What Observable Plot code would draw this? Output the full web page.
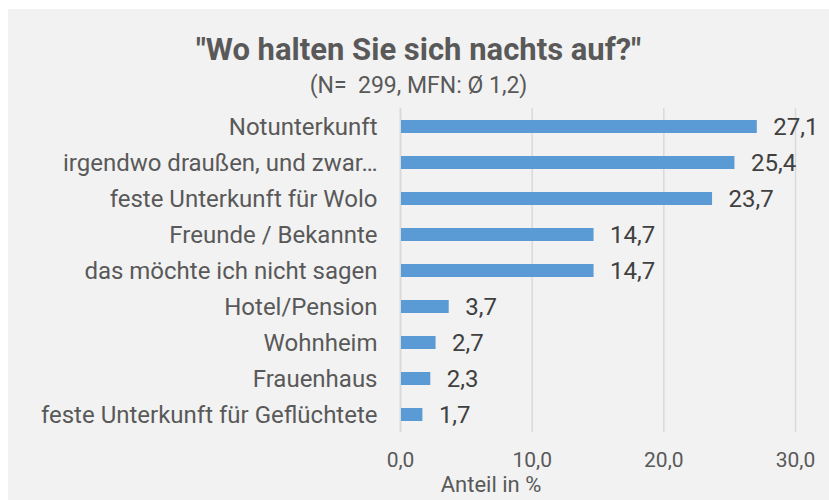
<!DOCTYPE html>
<html>
<head>
<meta charset="utf-8">
<script src="https://cdn.jsdelivr.net/npm/d3@7"></script>
<script src="https://cdn.jsdelivr.net/npm/@observablehq/plot@0.6"></script>
<style>
  body { margin: 0; background: #ffffff; width: 829px; height: 500px; overflow: hidden; position: relative; font-family: Roboto, "Liberation Sans", sans-serif; }
  #panel { position: absolute; left: 8px; top: 9px; width: 821px; height: 491px; background: #f2f2f2; }
  #title { position: absolute; left: 8px; width: 821px; top: 32px; text-align: center; font-size: 31px; font-weight: bold; color: #595959; line-height: 36px; }
  #subtitle { position: absolute; left: 8px; width: 821px; top: 72px; text-align: center; font-size: 23px; color: #595959; line-height: 28px; }
  #xlabel { position: absolute; left: 391px; width: 200px; top: 474px; text-align: center; font-size: 22px; color: #595959; line-height: 22px; }
  #chart { position: absolute; left: 0; top: 0; }
</style>
</head>
<body>
<div id="panel"></div>
<div id="title">"Wo halten Sie sich nachts auf?"</div>
<div id="subtitle">(N= &nbsp;299, MFN: Ø 1,2)</div>
<div id="chart"></div>
<div id="xlabel">Anteil in %</div>
<script>
const categories = [
  "Notunterkunft",
  "irgendwo draußen, und zwar…",
  "feste Unterkunft für Wolo",
  "Freunde / Bekannte",
  "das möchte ich nicht sagen",
  "Hotel/Pension",
  "Wohnheim",
  "Frauenhaus",
  "feste Unterkunft für Geflüchtete"
];
const values = [27.1, 25.4, 23.7, 14.7, 14.7, 3.7, 2.7, 2.3, 1.7];
const xTicks = [0, 10, 20, 30];

const data = categories.map((c, i) => ({category: c, value: values[i]}));
const fmt = v => v.toFixed(1).replace(".", ",");

const chart = Plot.plot({
  width: 829,
  height: 500,
  marginTop: 108,
  marginBottom: 68,
  marginLeft: 400,
  marginRight: 34,
  style: { background: "transparent", fontFamily: "Roboto, sans-serif" },
  x: { domain: [0, 30], ticks: xTicks, tickFormat: fmt, label: null },
  y: { domain: categories, paddingInner: 0.64, paddingOuter: 0.32, label: null },
  marks: [
    Plot.ruleX(xTicks.slice(1), { stroke: "#d9d9d9", strokeWidth: 1.5 }),
    Plot.ruleX([0], { stroke: "#d9d9d9", strokeWidth: 2 }),
    Plot.barX(data, { x: "value", y: "category", fill: "#5b9bd5", insetLeft: 1 }),
    Plot.text(data, { x: "value", y: "category", text: d => fmt(d.value), textAnchor: "start", dx: 16, fill: "#404040", fontSize: 24 }),
    Plot.axisX({ ticks: xTicks, tickFormat: fmt, tickSize: 0, tickPadding: 20, fontSize: 21, color: "#595959", label: null }),
    Plot.axisY({ tickSize: 0, tickPadding: 23, fontSize: 24, color: "#595959", label: null })
  ]
});
document.getElementById("chart").appendChild(chart);
</script>
</body>
</html>
